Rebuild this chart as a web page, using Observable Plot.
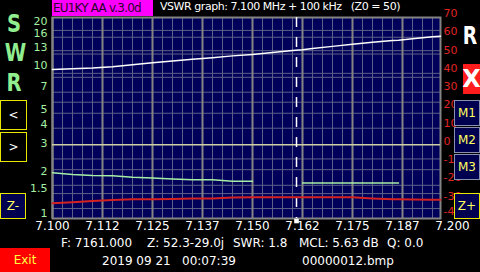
<!DOCTYPE html>
<html><head><meta charset="utf-8">
<script src="https://cdn.jsdelivr.net/npm/d3@7"></script>
<script src="https://cdn.jsdelivr.net/npm/@observablehq/plot@0.6"></script>
<style>
html,body{margin:0;padding:0;background:#000;width:480px;height:272px;overflow:hidden;font-family:"DejaVu Sans",sans-serif;}
#wrap{position:relative;width:480px;height:272px;background:#000;}
#wrap svg{position:absolute;left:0;top:0;}
.t{position:absolute;white-space:pre;line-height:1;color:#fff;font-size:12px;}
.big{position:absolute;white-space:pre;line-height:1;font-size:25px;font-weight:bold;transform:scaleX(0.78);transform-origin:center;width:24px;text-align:center;}
.btn{position:absolute;box-sizing:border-box;display:flex;align-items:center;justify-content:center;font-size:12px;line-height:1;}
</style>
</head><body><div id="wrap"></div>
<script>
// ---- data ----
const freq   = [7.100, 7.105, 7.110, 7.115, 7.120, 7.125, 7.130, 7.135, 7.140, 7.145, 7.150, 7.155, 7.160, 7.1625, 7.165, 7.170, 7.175, 7.180, 7.185, 7.1865, 7.190, 7.195, 7.197];
const swr    = [1.98, 1.93, 1.90, 1.89, 1.85, 1.83, 1.80, 1.78, 1.78, 1.74, 1.74, null, null, 1.70, 1.70, 1.70, 1.70, 1.70, 1.70, 1.70, null, null, null];
const resist = [41.5, 41.9, 42.3, 43.1, 44.2, 45.2, 46.2, 47.1, 48.0, 49.0, 49.8, 50.8, 52.0, 52.3, 53.0, 54.2, 55.4, 56.5, 57.4, 57.5, 58.4, 59.4, 59.8];
const react  = [-31.7, -31.1, -30.4, -29.9, -29.5, -29.4, -29.3, -29.1, -29.0, -28.5, -28.4, -28.4, -28.4, -28.4, -28.4, -28.4, -28.4, -29.0, -29.5, -29.5, -29.6, -29.7, -29.7];
const swrTicks = [1, 1.5, 2, 3, 4, 5, 7, 10, 13, 16, 20];
const rxTicks  = [70, 60, 50, 40, 30, 20, 10, 0, -10, -20, -30, -40];
const fTicks   = [7.1, 7.1125, 7.125, 7.1375, 7.15, 7.1625, 7.175, 7.1875, 7.2];
const fLabels  = ["7.100", "7.112", "7.125", "7.137", "7.150", "7.162", "7.175", "7.187", "7.200"];
const swrGrid  = [1.16, 1.45, 1.64, 2.07, 2.43, 3.84, 4.8, 5.66, 6.57, 8.2, 8.7, 11.6, 12.2, 14.9, 16.5];
const markerF  = 7.161;

// ---- layout ----
const wrap = document.getElementById("wrap");
const fDomain = [7.1, 7.197];
const gridF = d3.range(0, 39).map(k => 7.1 + k * 0.0025);
const common = {
  width: 480, height: 272, marginLeft: 52, marginRight: 40, marginTop: 17, marginBottom: 54,
  style: {background: "transparent", overflow: "visible", fontFamily: "DejaVu Sans"},
  x: {domain: fDomain, axis: null}
};
const rows = freq.map((f, i) => ({f, swr: swr[i], r: resist[i], x: react[i]}));
const lblGreen = {frameAnchor: "left", dx: -5, textAnchor: "end", fill: "#a4f0a4", fontSize: 11};

const p1 = Plot.plot({
  ...common,
  y: {type: "log", domain: [1, 20], axis: null},
  marks: [
    Plot.frame({fill: "#00005a"}),
    Plot.ruleX(gridF.filter((d, i) => i % 5), {stroke: "#5c6088", strokeWidth: 1}),
    Plot.ruleY(swrGrid, {stroke: "#5c6088", strokeWidth: 1}),
    Plot.ruleX(gridF.filter((d, i) => i % 5 === 0), {stroke: "#848484", strokeWidth: 2}),
    Plot.frame({stroke: "#848484", strokeWidth: 2}),
    Plot.ruleY([3], {stroke: "#cfcfa6", strokeWidth: 1.5}),
    Plot.line(rows, {x: "f", y: "swr", stroke: "#a6eea6", strokeWidth: 1.5}),
    Plot.text(swrTicks.filter(d => d >= 10 && d < 20), {y: d => d, dy: 1, ...lblGreen}),
    Plot.text(swrTicks.filter(d => d >= 2 && d < 10), {y: d => d, dy: -1, ...lblGreen}),
    Plot.text([1.5], {y: d => d, dy: -3, ...lblGreen}),
    Plot.text([20], {y: d => d, dy: 3.5, ...lblGreen}),
    Plot.text([1], {y: d => d, dy: -5, ...lblGreen}),
    Plot.text(fTicks, {x: d => d, text: (d, i) => fLabels[i], frameAnchor: "bottom", dy: 11.5, fill: "#ffffff", fontSize: 12})
  ]
});

const p2 = Plot.plot({
  ...common,
  y: {domain: [-40, 70], axis: null},
  marks: [
    Plot.ruleX([markerF], {stroke: "#ffffff", strokeWidth: 1.5, strokeDasharray: "10,10"}),
    Plot.line(rows, {x: "f", y: "r", stroke: "#ffffff", strokeWidth: 1.5}),
    Plot.line(rows, {x: "f", y: "x", stroke: "#d42222", strokeWidth: 2}),
    Plot.text(rxTicks.filter(d => d > -40), {y: d => d, frameAnchor: "right", dx: 3, dy: -4, textAnchor: "start", fill: "#e02424", fontSize: 11}),
    Plot.text([-40], {y: d => d, frameAnchor: "right", dx: 3, dy: -7, textAnchor: "start", fill: "#e02424", fontSize: 11}),
    Plot.dot([markerF], {x: d => d, frameAnchor: "bottom", dy: 2.5, symbol: "square", r: 2.6, fill: "#ffffff", stroke: "none"})
  ]
});
wrap.appendChild(p1);
wrap.appendChild(p2);

// ---- HTML labels and buttons ----
function el(cls, txt, css) {
  const d = document.createElement("div");
  d.className = cls; d.textContent = txt;
  Object.assign(d.style, css); wrap.appendChild(d); return d;
}
el("t", "EU1KY AA v.3.0d", {left: "52px", top: "0px", width: "101px", height: "16px", background: "#ff00ff", color: "#2a002a", paddingLeft: "1px", boxSizing: "border-box", lineHeight: "16px", letterSpacing: "-0.8px"});
el("t", "VSWR graph: 7.100 MHz + 100 kHz   (Z0 = 50)", {left: "160px", top: "1px", fontSize: "11px", letterSpacing: "-0.45px"});
// big side letters
el("big", "S", {left: "2px", top: "11px", color: "#90ee90"});
el("big", "W", {left: "2px", top: "40px", color: "#90ee90"});
el("big", "R", {left: "2px", top: "70px", color: "#90ee90"});
el("big", "R", {left: "458px", top: "24px", fontSize: "24px", color: "#ffffff"});
el("btn", "X", {left: "463px", top: "64px", width: "17px", height: "30px", background: "#ff1c1c", color: "#fff", fontSize: "24px", fontWeight: "bold"});
// buttons
el("btn", "<", {left: "0px", top: "100px", width: "27px", height: "30px", border: "1px solid #e8e800", background: "#000", color: "#fff"});
el("btn", ">", {left: "0px", top: "132px", width: "27px", height: "30px", border: "1px solid #e8e800", background: "#000", color: "#fff"});
el("btn", "Z-", {left: "0px", top: "193px", width: "26px", height: "26px", border: "1px solid #e8e800", background: "#000050", color: "#ffff60"});
el("btn", "Z+", {left: "454px", top: "193px", width: "26px", height: "26px", border: "1px solid #e8e800", background: "#000050", color: "#ffff60"});
el("btn", "M1", {left: "454px", top: "100px", width: "26px", height: "26px", border: "1px solid #8890b0", background: "#000050", color: "#ffff60"});
el("btn", "M2", {left: "454px", top: "127px", width: "26px", height: "26px", border: "1px solid #8890b0", background: "#000050", color: "#ffff60"});
el("btn", "M3", {left: "454px", top: "154px", width: "26px", height: "26px", border: "1px solid #8890b0", background: "#000050", color: "#ffff60"});
el("btn", "Exit", {left: "0px", top: "248px", width: "50px", height: "24px", background: "#ff0000", color: "#ffff40"});
// status lines
el("t", "F: 7161.000", {left: "61px", top: "237px"});
el("t", "Z: 52.3-29.0j", {left: "147px", top: "237px"});
el("t", "SWR: 1.8", {left: "233px", top: "237px"});
el("t", "MCL: 5.63 dB", {left: "299px", top: "237px"});
el("t", "Q: 0.0", {left: "387px", top: "237px"});
el("t", "2019 09 21", {left: "102px", top: "255px"});
el("t", "00:07:39", {left: "182px", top: "255px"});
el("t", "00000012.bmp", {left: "302px", top: "255px"});
</script>
</body></html>
